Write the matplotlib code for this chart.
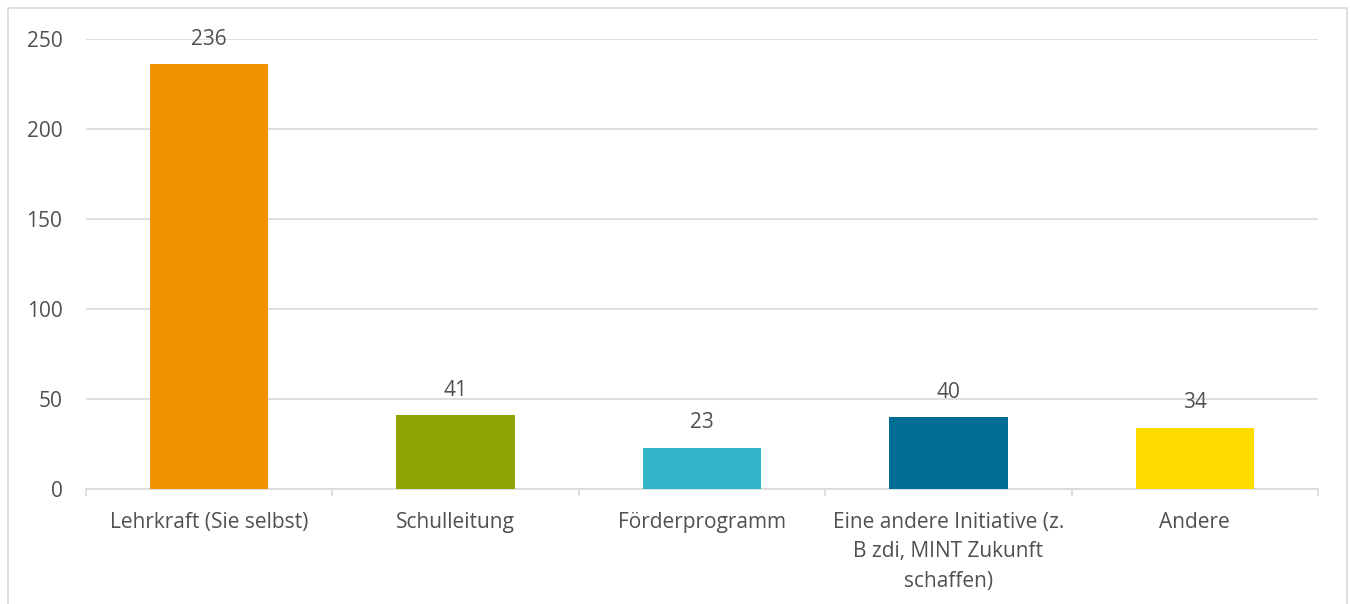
import matplotlib
matplotlib.use("Agg")
import matplotlib.pyplot as plt
from matplotlib.patches import Rectangle
import numpy as np

categories = ["Lehrkraft (Sie selbst)", "Schulleitung", "Förderprogramm",
              "Eine andere Initiative (z.\nB zdi, MINT Zukunft\nschaffen)", "Andere"]
values = [236, 41, 23, 40, 34]
colors = ["#F39200", "#8FA403", "#33B5C9", "#006E92", "#FFDC00"]
yticks = [0, 50, 100, 150, 200, 250]

plt.rcParams['font.family'] = ['Open Sans', 'DejaVu Sans']
text_color = "#505050"
grid_color = "#D9D9D9"
fs = 15

fig = plt.figure(figsize=(13.5, 6.04), dpi=100)
ax = fig.add_axes([86/1350, 1-489/604, (1318-86)/1350, (489-39)/604])

x = np.arange(len(categories))
bars = ax.bar(x, values, width=0.48, color=colors, zorder=3)

for xi, v in zip(x, values):
    ax.annotate(str(v), (xi, v), xytext=(0, 18), textcoords="offset points",
                ha="center", va="center", fontsize=fs, color=text_color, zorder=4)

ax.set_xlim(-0.5, len(categories) - 0.5)
ax.set_ylim(0, 250)
ax.set_yticks(yticks)
ax.set_yticklabels([str(t) for t in yticks])
ax.set_xticks(x)
ax.set_xticklabels(categories, linespacing=1.52)
ax.set_xticks(np.arange(-0.5, len(categories)), minor=True)

ax.tick_params(axis='x', which='major', length=0, pad=16.5, labelsize=fs, labelcolor=text_color)
ax.tick_params(axis='x', which='minor', length=5, width=1.2, color=grid_color, direction='out')
ax.tick_params(axis='y', length=0, pad=17, labelsize=fs, labelcolor=text_color)

ax.grid(axis='y', color=grid_color, linewidth=1.2, zorder=0)
for s in ['top', 'right', 'left']:
    ax.spines[s].set_visible(False)
ax.spines['bottom'].set_color(grid_color)
ax.spines['bottom'].set_linewidth(1.2)

fig.patches.append(Rectangle((8/1350, -0.1), (1347-8)/1350, 1.1 - 8/604,
                             transform=fig.transFigure, fill=False,
                             edgecolor=grid_color, linewidth=1.2, zorder=0))

fig.savefig("out.png", dpi=100)
